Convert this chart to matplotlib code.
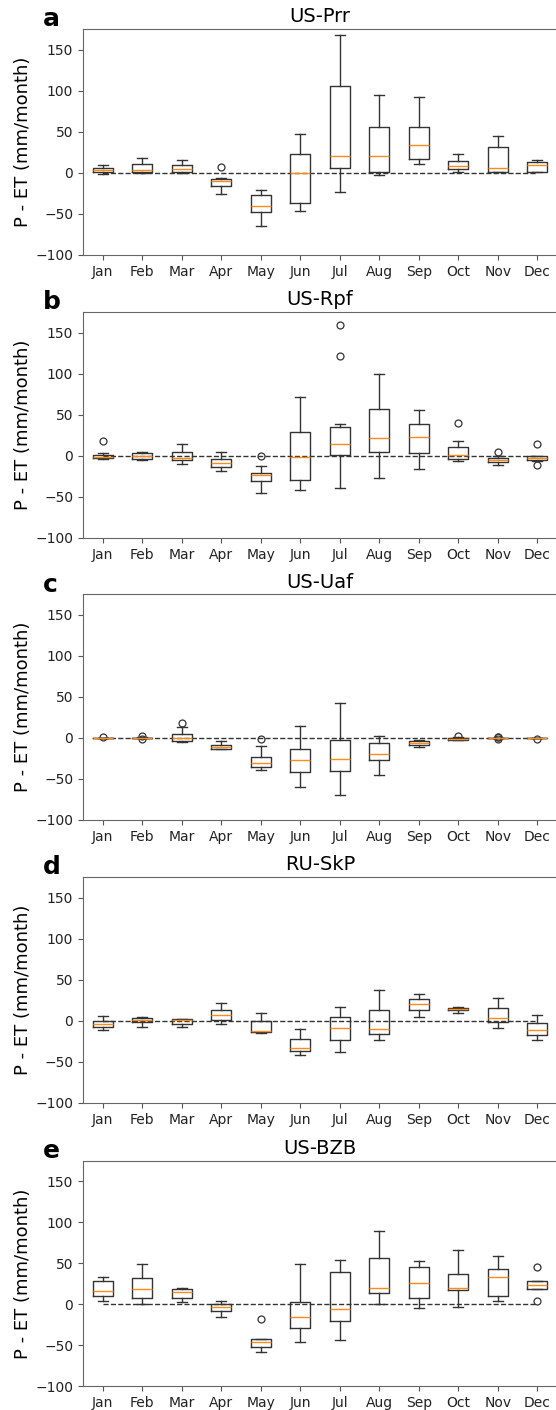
import matplotlib
matplotlib.use("Agg")
import matplotlib.pyplot as plt

months = ['Jan', 'Feb', 'Mar', 'Apr', 'May', 'Jun', 'Jul', 'Aug', 'Sep', 'Oct', 'Nov', 'Dec']
sites = ['US-Prr', 'US-Rpf', 'US-Uaf', 'RU-SkP', 'US-BZB']
panel_letters = ['a', 'b', 'c', 'd', 'e']

# Monthly P - ET summary per site: whisker low, Q1, median, Q3, whisker high (mm/month)
prr_low = [-1, 0, 0, -26, -65, -46, -24, -3, 10.5, 1, 0.5, 0.5]
prr_q1 = [1, 1, 1, -15.5, -48, -37, 6, 1, 17, 4.5, 1, 1.5]
prr_med = [3, 3, 5, -10, -41, 0, 20, 21, 34.5, 8, 5.5, 9.5]
prr_q3 = [6, 11, 9, -7, -27.5, 23, 106, 56, 56, 14.5, 32, 13.5]
prr_high = [10, 18, 16, -6, -21, 47, 168, 95, 93, 23.5, 45, 15.5]
prr_fliers = {'Apr': [7]}

rpf_low = [-4.5, -5, -9.5, -18, -45.5, -42, -39, -27, -16.7, -6.5, -11, -6.5]
rpf_q1 = [-3, -4.5, -5, -14, -31, -29, 0.8, 5, 3.7, -3.7, -7, -5.7]
rpf_med = [-1, 0, -2.5, -9, -24, -1.2, 13.8, 22, 23.5, 0.5, -5, -2.8]
rpf_q3 = [1, 3, 5, -4.5, -21, 29.3, 35.4, 56.5, 38.6, 10.6, -2.8, -0.4]
rpf_high = [4, 5, 14, 5, -12, 71.5, 38.6, 100, 56, 17.9, -0.5, 0]
rpf_fliers = {'Jan': [18], 'May': [0], 'Jul': [122, 159], 'Oct': [39.4],
              'Nov': [5], 'Dec': [14.6, -11]}

uaf_low = [-0.5, -0.5, -5.3, -13.5, -39.4, -59.8, -69, -45.5, -11, -3, -0.3, -0.5]
uaf_q1 = [-0.3, -0.3, -3.3, -13, -35.8, -41, -40, -27, -8, -2, -0.2, -0.2]
uaf_med = [0, 0, 0.4, -11, -31, -26.8, -26, -19, -5.7, -1, 0, 0]
uaf_q3 = [0.3, 0.5, 4.5, -8.5, -23.6, -13, -2, -6, -3.7, 0, 0.2, 0.2]
uaf_high = [0.5, 1, 13, -4, -10, 14.6, 42.7, 2.8, -2, 1, 0.3, 0.5]
uaf_fliers = {'Jan': [1], 'Feb': [3, -1.6], 'Mar': [17.9], 'May': [-1.2],
              'Oct': [3], 'Nov': [1.2, 0.8, -1.5], 'Dec': [-1.6]}

skp_low = [-11, -7.3, -8, -4, -14.6, -41.5, -38, -23, 4.5, 9.8, -9, -23.6]
skp_q1 = [-8, -2, -3.3, 0.8, -13.8, -37.4, -23.6, -16.7, 12.6, 13, -2, -17.5]
skp_med = [-3.7, 1.2, 0.4, 7, -12.6, -33, -8.5, -10, 21, 14.2, 3.3, -11.4]
skp_q3 = [0, 4, 2.4, 13, -0.4, -22, 4.5, 13.4, 26.8, 16, 15.4, -2.4]
skp_high = [6, 4.5, 2.4, 21.5, 10, -10.6, 17, 37.8, 32.5, 17, 27.6, 6.5]
skp_fliers = {}

bzb_low = [4, 0.4, 2.8, -15, -58.5, -46, -44, 0.4, -4.9, -3.3, 3.7, 18.7]
bzb_q1 = [10.6, 8, 7, -8.5, -52.8, -28.5, -20.7, 13.8, 7.7, 17.9, 10.6, 18.7]
bzb_med = [16.3, 19, 14.6, -4, -46, -15.4, -5.3, 20, 26, 20, 33.3, 24]
bzb_q3 = [28, 31.7, 18.3, 0.8, -41.9, 2.8, 39.4, 56, 45.5, 37, 42.7, 28]
bzb_high = [33.3, 49.6, 19.5, 3.7, -41.9, 48.8, 54, 89.4, 52.8, 65.9, 58.5, 28]
bzb_fliers = {'May': [-17.9], 'Dec': [45.5, 4.5]}

site_data = [
    (prr_low, prr_q1, prr_med, prr_q3, prr_high, prr_fliers),
    (rpf_low, rpf_q1, rpf_med, rpf_q3, rpf_high, rpf_fliers),
    (uaf_low, uaf_q1, uaf_med, uaf_q3, uaf_high, uaf_fliers),
    (skp_low, skp_q1, skp_med, skp_q3, skp_high, skp_fliers),
    (bzb_low, bzb_q1, bzb_med, bzb_q3, bzb_high, bzb_fliers),
]


def build_stats(low, q1, med, q3, high, fliers):
    stats = []
    for i, m in enumerate(months):
        stats.append({'label': m, 'whislo': low[i], 'q1': q1[i], 'med': med[i],
                      'q3': q3[i], 'whishi': high[i], 'fliers': fliers.get(m, [])})
    return stats


W, H = 556, 1410
fig = plt.figure(figsize=(W / 100, H / 100), dpi=100)

left_px, right_px = 83, 557
top_px = [29.3, 312.3, 594.5, 877.3, 1160.7]
height_px = 225.5

line_col = '#333333'
for k, (site, letter, data) in enumerate(zip(sites, panel_letters, site_data)):
    ax = fig.add_axes([left_px / W, 1 - (top_px[k] + height_px) / H,
                       (right_px - left_px) / W, height_px / H])
    # zero reference line
    ax.hlines(0, 1, 12, colors='#333333', linestyles='--', linewidth=1.0)
    ax.bxp(build_stats(*data), positions=range(1, 13), widths=0.5,
           boxprops=dict(color=line_col, linewidth=1.0),
           whiskerprops=dict(color=line_col, linewidth=1.0),
           capprops=dict(color=line_col, linewidth=1.0),
           medianprops=dict(color='#ff8c1a', linewidth=1.0),
           flierprops=dict(marker='o', markerfacecolor='none',
                           markeredgecolor=line_col, markersize=5, markeredgewidth=0.9))
    ax.set_xlim(0.5, 12.5)
    ax.set_ylim(-100, 175)
    ax.set_yticks([-100, -50, 0, 50, 100, 150])
    ax.set_xticks(range(1, 13))
    ax.set_xticklabels(months)
    ax.tick_params(labelsize=10, color='#555555', labelcolor='#222222')
    for sp in ax.spines.values():
        sp.set_color('#666666')
    # the right edge of the axes falls on the border of the figure
    ax.spines['right'].set_visible(False)
    ax.set_title(site, fontsize=14, pad=5)
    ax.set_ylabel('P - ET (mm/month)', fontsize=13, labelpad=2)
    ax.text(-0.084, 1.013, letter, transform=ax.transAxes, fontsize=18,
            fontweight='bold', ha='left', va='baseline')

fig.savefig('out.png', dpi=100)
